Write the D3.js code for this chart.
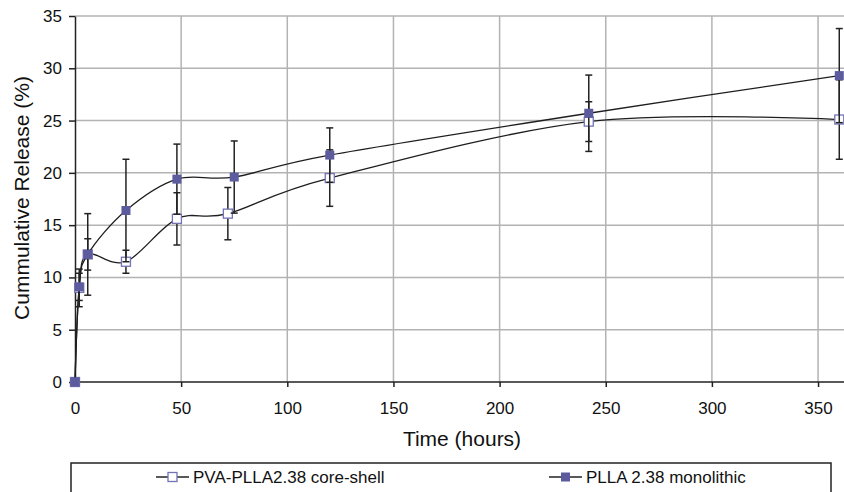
<!DOCTYPE html>
<html>
<head>
<meta charset="utf-8">
<script src="https://cdn.jsdelivr.net/npm/d3@7"></script>
<style>
  body { margin: 0; background: #fff; }
  text { font-family: "Liberation Sans", Arial, sans-serif; fill: #111; }
</style>
</head>
<body>
<div id="chart"></div>
<script>
// chart size
var width = 844;
var height = 492;

// data
var shellTime = [0, 2, 6, 24, 48, 72, 120, 242, 360];
var shellRelease = [0, 9.0, 12.2, 11.5, 15.6, 16.1, 19.5, 24.9, 25.1];
var shellError = [0, 1.8, 1.5, 1.1, 2.5, 2.5, 2.7, 1.9, 3.8];

var monoTime = [0, 2, 6, 24, 48, 75, 120, 242, 360];
var monoRelease = [0, 9.1, 12.2, 16.4, 19.4, 19.6, 21.7, 25.7, 29.3];
var monoError = [0, 1.3, 3.9, 4.9, 3.35, 3.45, 2.6, 3.65, 4.5];

var xTicks = [0, 50, 100, 150, 200, 250, 300, 350];
var yTicks = [0, 5, 10, 15, 20, 25, 30, 35];
var seriesNames = ['PVA-PLLA2.38 core-shell', 'PLLA 2.38 monolithic'];

var markerFill = '#5b5b9d';
var markerStroke = '#7373b5';

// scales
var xScale = d3.scaleLinear()
               .domain([0, 400])
               .range([75, 75 + 400 * 2.123]);

var yScale = d3.scaleLinear()
               .domain([0, 35])
               .range([382, 16]);

var svg = d3.select('#chart')
            .append('svg')
            .attr('width', width)
            .attr('height', height);

// grid lines
svg.append('g')
   .selectAll('line')
   .data(yTicks.slice(1))
   .enter()
   .append('line')
   .attr('x1', xScale(0))
   .attr('x2', width)
   .attr('y1', function (d) { return yScale(d); })
   .attr('y2', function (d) { return yScale(d); })
   .style('stroke', '#b3b3b3')
   .style('stroke-width', 1.5);

svg.append('g')
   .selectAll('line')
   .data(xTicks.slice(1))
   .enter()
   .append('line')
   .attr('x1', function (d) { return xScale(d); })
   .attr('x2', function (d) { return xScale(d); })
   .attr('y1', yScale(35))
   .attr('y2', yScale(0))
   .style('stroke', '#b3b3b3')
   .style('stroke-width', 1.5);

// axes
var xAxis = d3.axisBottom(xScale)
              .tickValues(xTicks)
              .tickSize(5)
              .tickSizeOuter(0)
              .tickPadding(15);

var yAxis = d3.axisLeft(yScale)
              .tickValues(yTicks)
              .tickSize(6)
              .tickSizeOuter(0)
              .tickPadding(7);

var gx = svg.append('g')
            .attr('transform', 'translate(0,' + yScale(0) + ')')
            .call(xAxis);
gx.select('.domain').attr('d', 'M' + xScale(0) + ',0H' + width);

var gy = svg.append('g')
            .attr('transform', 'translate(' + xScale(0) + ',0)')
            .call(yAxis);

svg.selectAll('.domain, .tick line')
   .style('stroke', '#222')
   .style('stroke-width', 1.5);
svg.selectAll('.tick text')
   .style('font-size', '17px')
   .style('font-family', '"Liberation Sans", Arial, sans-serif')
   .style('fill', '#111');

// axis titles
svg.append('text')
   .attr('x', 462)
   .attr('y', 439)
   .attr('dy', '0.35em')
   .style('text-anchor', 'middle')
   .style('font-size', '21px')
   .text('Time (hours)');

svg.append('text')
   .attr('transform', 'translate(22,198) rotate(-90)')
   .attr('dy', '0.35em')
   .style('text-anchor', 'middle')
   .style('font-size', '21px')
   .text('Cummulative Release (%)');

// series
var series = [
  { time: shellTime, value: shellRelease, err: shellError, filled: false },
  { time: monoTime, value: monoRelease, err: monoError, filled: true }
];

var line = d3.line()
             .x(function (d) { return xScale(d[0]); })
             .y(function (d) { return yScale(d[1]); })
             .curve(d3.curveCatmullRom.alpha(0));

series.forEach(function (s) {
  var pts = s.time.map(function (t, i) { return [t, s.value[i], s.err[i]]; });

  svg.append('path')
     .datum(pts)
     .attr('d', line)
     .style('fill', 'none')
     .style('stroke', '#1e1e1e')
     .style('stroke-width', 1.3);

  // error bars
  var eb = svg.append('g')
              .selectAll('g')
              .data(pts.filter(function (d) { return d[2] > 0; }))
              .enter()
              .append('g')
              .style('stroke', '#222')
              .style('stroke-width', 1.5);
  eb.append('line')
    .attr('x1', function (d) { return xScale(d[0]); })
    .attr('x2', function (d) { return xScale(d[0]); })
    .attr('y1', function (d) { return yScale(d[1] - d[2]); })
    .attr('y2', function (d) { return yScale(d[1] + d[2]); });
  [1, -1].forEach(function (sign) {
    eb.append('line')
      .attr('x1', function (d) { return xScale(d[0]) - 3.5; })
      .attr('x2', function (d) { return xScale(d[0]) + 3.5; })
      .attr('y1', function (d) { return yScale(d[1] + sign * d[2]); })
      .attr('y2', function (d) { return yScale(d[1] + sign * d[2]); });
  });

  // markers
  svg.append('g')
     .selectAll('rect')
     .data(pts)
     .enter()
     .append('rect')
     .attr('x', function (d) { return xScale(d[0]) - 4.5; })
     .attr('y', function (d) { return yScale(d[1]) - 4.5; })
     .attr('width', 9)
     .attr('height', 9)
     .style('fill', s.filled ? markerFill : '#fff')
     .style('stroke', s.filled ? markerFill : markerStroke)
     .style('stroke-width', s.filled ? 0 : 1.3);
});

// legend
svg.append('rect')
   .attr('x', 71)
   .attr('y', 463)
   .attr('width', 760)
   .attr('height', 40)
   .style('fill', '#fff')
   .style('stroke', '#222')
   .style('stroke-width', 1.5);

var legendX = [156, 549];
seriesNames.forEach(function (name, i) {
  var g = svg.append('g').attr('transform', 'translate(' + legendX[i] + ',477)');
  g.append('line')
   .attr('x1', 0).attr('x2', 33)
   .style('stroke', '#222')
   .style('stroke-width', 1.5);
  g.append('rect')
   .attr('x', 12).attr('y', -4.5)
   .attr('width', 9).attr('height', 9)
   .style('fill', i === 1 ? markerFill : '#fff')
   .style('stroke', i === 1 ? markerFill : markerStroke)
   .style('stroke-width', i === 1 ? 0 : 1.3);
  g.append('text')
   .attr('x', 37)
   .attr('dy', '0.35em')
   .style('font-size', '17px')
   .text(name);
});
</script>
</body>
</html>
